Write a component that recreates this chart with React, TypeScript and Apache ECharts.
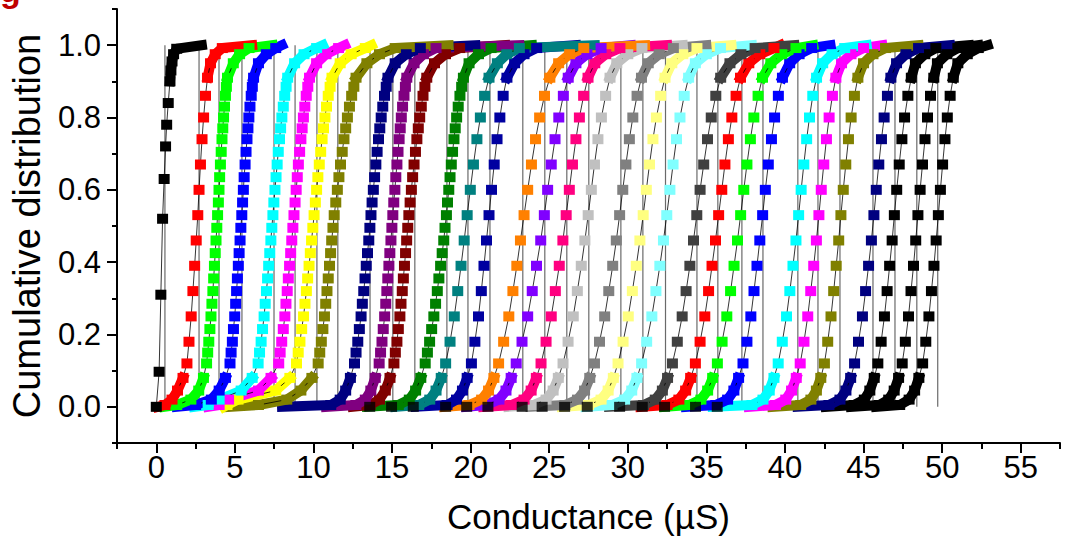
import React, { useEffect, useRef } from "react";
import * as echarts from "echarts";

// cumulative levels shared by curves 2–32 (y values of the plotted points)
const Y_LEVELS = [0.005, 0.02, 0.045, 0.08, 0.12, 0.18, 0.25, 0.32, 0.39, 0.46, 0.53, 0.6, 0.67, 0.74, 0.8, 0.86, 0.91, 0.95, 0.975, 0.992];
// extra levels for the densely sampled curves
const Y_EXTRA = [0.15, 0.215, 0.285, 0.355, 0.425, 0.495, 0.565, 0.635, 0.705, 0.77, 0.83, 0.885];
// the first (very steep) curve has its own sparse levels
const Y_LEVELS_01 = [0.0, 0.097, 0.31, 0.52, 0.63, 0.72, 0.78, 0.84, 0.9, 0.93, 0.955, 0.975, 0.99];

// conductance (µS) of each curve at its levels
const curve01 = [0.0, 0.18, 0.29, 0.4, 0.5, 0.59, 0.66, 0.76, 0.87, 0.93, 1.0, 1.1, 1.3];
const curve02 = [0.55, 1.0, 1.35, 1.7, 1.95, 2.08, 2.22, 2.33, 2.44, 2.54, 2.64, 2.72, 2.81, 2.91, 3.01, 3.13, 3.26, 3.45, 3.75, 4.2];
const curve03 = [1.3, 2.2, 2.7, 3.0, 3.2, 3.34, 3.48, 3.6, 3.7, 3.8, 3.9, 3.99, 4.08, 4.18, 4.28, 4.4, 4.53, 4.9, 5.3, 5.9];
const curve04 = [2.5, 3.5, 4.0, 4.4, 4.69, 4.84, 4.99, 5.11, 5.22, 5.33, 5.44, 5.54, 5.65, 5.77, 5.89, 6.04, 6.19, 6.5, 7.0, 7.6];
const curve05 = [3.3, 4.0, 5.4, 6.1, 6.48, 6.67, 6.86, 7.01, 7.15, 7.29, 7.42, 7.55, 7.69, 7.84, 7.99, 8.17, 8.36, 8.8, 9.4, 10.2];
const curve06 = [4.0, 4.6, 6.5, 7.3, 7.79, 7.98, 8.18, 8.33, 8.48, 8.62, 8.76, 8.9, 9.04, 9.2, 9.36, 9.54, 9.75, 10.2, 10.8, 11.6];
const curve07 = [4.5, 5.2, 7.6, 8.5, 8.92, 9.14, 9.37, 9.55, 9.72, 9.88, 10.04, 10.2, 10.37, 10.55, 10.73, 10.94, 11.18, 11.7, 12.4, 13.3];
const curve08 = [6.5, 8.3, 9.2, 9.9, 10.3, 10.5, 10.7, 10.86, 11.02, 11.16, 11.32, 11.52, 11.72, 11.94, 12.16, 12.43, 12.71, 13.4, 14.2, 15.2];
const curve09 = [11.1, 11.7, 12.05, 12.35, 12.61, 12.82, 13.03, 13.2, 13.36, 13.52, 13.66, 13.81, 13.97, 14.14, 14.31, 14.52, 14.74, 15.2, 15.9, 16.8];
const curve10 = [12.7, 13.3, 13.65, 13.93, 14.18, 14.36, 14.53, 14.67, 14.8, 14.93, 15.05, 15.18, 15.31, 15.45, 15.59, 15.76, 15.94, 16.4, 17.0, 17.8];
const curve11 = [13.6, 14.2, 14.57, 14.87, 15.12, 15.31, 15.5, 15.65, 15.79, 15.93, 16.07, 16.23, 16.4, 16.58, 16.76, 16.97, 17.21, 17.7, 18.4, 19.3];
const curve12 = [15.4, 16.1, 16.5, 16.83, 17.11, 17.39, 17.66, 17.88, 18.09, 18.29, 18.46, 18.61, 18.77, 18.94, 19.11, 19.32, 19.54, 19.9, 20.5, 21.3];
const curve13 = [16.7, 17.4, 17.8, 18.13, 18.41, 18.69, 18.96, 19.18, 19.39, 19.59, 19.78, 19.98, 20.18, 20.4, 20.62, 20.89, 21.17, 21.7, 22.3, 23.1];
const curve14 = [18.5, 19.1, 19.48, 19.78, 20.05, 20.27, 20.5, 20.68, 20.85, 21.01, 21.17, 21.33, 21.5, 21.68, 21.86, 22.07, 22.31, 22.8, 23.4, 24.2];
const curve15 = [19.9, 20.7, 21.14, 21.48, 21.78, 22.1, 22.43, 22.69, 22.94, 23.17, 23.4, 23.63, 23.87, 24.13, 24.39, 24.7, 25.04, 25.6, 26.3, 27.2];
const curve16 = [21.0, 21.8, 22.25, 22.58, 22.9, 23.27, 23.63, 23.92, 24.19, 24.46, 24.69, 24.9, 25.13, 25.37, 25.61, 25.9, 26.21, 26.7, 27.4, 28.3];
const curve17 = [22.6, 23.4, 23.85, 24.18, 24.48, 24.8, 25.13, 25.39, 25.64, 25.87, 26.08, 26.28, 26.48, 26.7, 26.92, 27.19, 27.47, 27.9, 28.6, 29.5];
const curve18 = [24.0, 24.8, 25.25, 25.58, 25.88, 26.2, 26.53, 26.79, 27.04, 27.27, 27.48, 27.68, 27.88, 28.1, 28.32, 28.59, 28.87, 29.3, 30.0, 30.9];
const curve19 = [26.0, 26.8, 27.25, 27.58, 27.88, 28.2, 28.53, 28.79, 29.04, 29.27, 29.48, 29.68, 29.88, 30.1, 30.32, 30.59, 30.87, 31.3, 32.0, 32.9];
const curve20 = [27.5, 28.3, 28.75, 29.08, 29.38, 29.7, 30.03, 30.29, 30.54, 30.77, 30.98, 31.18, 31.38, 31.6, 31.82, 32.09, 32.37, 32.8, 33.5, 34.4];
const curve21 = [29.0, 29.8, 30.25, 30.58, 30.88, 31.2, 31.53, 31.79, 32.04, 32.27, 32.48, 32.68, 32.88, 33.1, 33.32, 33.59, 33.87, 34.3, 35.0, 35.9];
const curve22 = [31.0, 31.75, 32.2, 32.53, 32.84, 33.15, 33.46, 33.71, 33.95, 34.18, 34.39, 34.6, 34.83, 35.07, 35.31, 35.6, 35.91, 36.5, 37.2, 38.1];
const curve23 = [32.5, 33.25, 33.68, 34.0, 34.3, 34.6, 34.9, 35.14, 35.36, 35.58, 35.78, 35.98, 36.18, 36.4, 36.62, 36.89, 37.17, 37.7, 38.4, 39.3];
const curve24 = [33.9, 34.65, 35.08, 35.4, 35.7, 36.0, 36.3, 36.54, 36.76, 36.98, 37.18, 37.38, 37.58, 37.8, 38.02, 38.29, 38.57, 39.1, 39.8, 40.7];
const curve25 = [35.6, 36.35, 36.75, 37.05, 37.33, 37.58, 37.83, 38.03, 38.22, 38.4, 38.58, 38.75, 38.94, 39.14, 39.34, 39.58, 39.84, 40.3, 40.9, 41.7];
const curve26 = [37.9, 38.6, 39.0, 39.3, 39.57, 39.83, 40.1, 40.31, 40.51, 40.7, 40.87, 41.03, 41.2, 41.38, 41.56, 41.77, 42.01, 42.4, 43.0, 43.8];
const curve27 = [39.4, 40.05, 40.42, 40.72, 40.97, 41.21, 41.45, 41.64, 41.83, 42.0, 42.16, 42.31, 42.47, 42.64, 42.81, 43.02, 43.24, 43.6, 44.2, 45.0];
const curve28 = [41.0, 41.65, 42.0, 42.28, 42.51, 42.72, 42.93, 43.1, 43.26, 43.42, 43.56, 43.71, 43.87, 44.04, 44.21, 44.42, 44.64, 45.0, 45.6, 46.4];
const curve29 = [42.8, 43.5, 43.88, 44.18, 44.43, 44.68, 44.93, 45.13, 45.32, 45.5, 45.66, 45.81, 45.97, 46.14, 46.31, 46.52, 46.74, 47.1, 47.7, 48.5];
const curve30 = [44.4, 45.05, 45.4, 45.68, 45.91, 46.12, 46.33, 46.5, 46.66, 46.82, 46.96, 47.11, 47.27, 47.44, 47.61, 47.82, 48.04, 48.3, 48.9, 49.6];
const curve31 = [46.0, 46.6, 46.95, 47.23, 47.46, 47.66, 47.86, 48.02, 48.18, 48.32, 48.46, 48.6, 48.75, 48.91, 49.07, 49.26, 49.47, 49.7, 50.3, 51.0];
const curve32 = [47.3, 47.9, 48.25, 48.52, 48.76, 48.96, 49.16, 49.32, 49.48, 49.62, 49.76, 49.89, 50.03, 50.18, 50.33, 50.51, 50.71, 51.0, 51.6, 52.3];

// conductance (µS) at the extra levels, for the densely sampled curves 3–12
const extra03 = [3.27, 3.41, 3.54, 3.65, 3.75, 3.85, 3.95, 4.03, 4.13, 4.23, 4.34, 4.46];
const extra04 = [4.76, 4.91, 5.05, 5.16, 5.27, 5.38, 5.49, 5.59, 5.71, 5.83, 5.96, 6.11];
const extra05 = [6.57, 6.76, 6.93, 7.08, 7.22, 7.35, 7.48, 7.62, 7.76, 7.91, 8.08, 8.26];
const extra06 = [7.88, 8.08, 8.25, 8.4, 8.55, 8.69, 8.83, 8.97, 9.12, 9.28, 9.45, 9.64];
const extra07 = [9.03, 9.25, 9.46, 9.63, 9.8, 9.96, 10.12, 10.28, 10.46, 10.64, 10.83, 11.06];
const extra08 = [10.4, 10.6, 10.78, 10.94, 11.09, 11.24, 11.42, 11.62, 11.83, 12.05, 12.29, 12.57];
const extra09 = [12.71, 12.92, 13.11, 13.28, 13.44, 13.59, 13.73, 13.89, 14.05, 14.22, 14.41, 14.63];
const extra10 = [14.27, 14.44, 14.6, 14.73, 14.86, 14.99, 15.11, 15.24, 15.38, 15.52, 15.67, 15.85];
const extra11 = [15.21, 15.4, 15.57, 15.72, 15.86, 16.0, 16.15, 16.31, 16.49, 16.67, 16.86, 17.09];
const extra12 = [17.25, 17.52, 17.77, 17.98, 18.19, 18.37, 18.53, 18.69, 18.85, 19.02, 19.21, 19.43];

const CURVES = [
  curve01, curve02, curve03, curve04, curve05, curve06, curve07, curve08,
  curve09, curve10, curve11, curve12, curve13, curve14, curve15, curve16,
  curve17, curve18, curve19, curve20, curve21, curve22, curve23, curve24,
  curve25, curve26, curve27, curve28, curve29, curve30, curve31, curve32,
];
const EXTRAS: (number[] | null)[] = [
  null, null, extra03, extra04, extra05, extra06, extra07, extra08,
  extra09, extra10, extra11, extra12, null, null, null, null,
  null, null, null, null, null, null, null, null,
  null, null, null, null, null, null, null, null,
];

// first conductance bin (cumulative = 0) and last bin (cumulative = 1) of each curve
const CURVE_X_MIN = [0.0, 0.1, 0.5, 1.3, 2.4, 3.3, 4.3, 4.6, 8.0, 10.8, 12.5, 13.4, 15.2, 16.5, 18.3, 19.7, 20.8, 22.4, 23.8, 25.8, 27.3, 28.8, 30.8, 32.3, 33.7, 35.4, 37.7, 39.2, 40.8, 42.6, 44.2, 45.8];
const CURVE_X_MAX = [2.9, 6.1, 7.4, 8.0, 10.6, 12.0, 13.7, 18.6, 20.3, 23.1, 22.2, 23.9, 27.9, 26.7, 31.1, 30.2, 32.5, 33.5, 35.0, 36.6, 37.9, 40.6, 39.7, 41.8, 42.9, 45.2, 46.2, 48.5, 50.5, 51.7, 52.3, 52.9];

const CURVE_COLORS = [
  "#000000", "#FF0000", "#00FF00", "#0000FF", "#00FFFF", "#FF00FF", "#FFFF00", "#808000",
  "#000080", "#800080", "#800000", "#008000", "#008080", "#0000A0", "#FF8000", "#8000FF",
  "#FF0080", "#C0C0C0", "#808080", "#FFFF80", "#80FFFF", "#404040", "#FF0000", "#00FF00",
  "#0000FF", "#00FFFF", "#FF00FF", "#808000", "#000080", "#000000", "#000000", "#000000",
];

// thin vertical marker line of every curve (µS)
const MEDIAN_LINES = [0.55, 2.72, 3.99, 5.45, 7.49, 8.83, 10.22, 11.55, 13.6, 15.05, 16.45, 18.49, 19.83, 21.23, 23.32, 24.72, 26.12, 27.52, 29.56, 30.96, 32.4, 34.4, 35.73, 37.26, 38.6, 40.82, 42.1, 43.5, 45.6, 47.0, 48.39, 49.72];

// black squares sitting on the zero line (µS)
const ZERO_MARKERS = [13.58, 14.97, 16.35, 18.41, 19.75, 21.1, 23.28, 24.55, 25.98, 27.42, 29.48, 30.92, 32.34, 34.31, 35.69];

// axis ticks
const X_MAJOR = [0, 5, 10, 15, 20, 25, 30, 35, 40, 45, 50, 55];
const X_MINOR = [-2.5, 2.5, 7.5, 12.5, 17.5, 22.5, 27.5, 32.5, 37.5, 42.5, 47.5, 52.5, 57.5];
const Y_MAJOR = [0, 0.2, 0.4, 0.6, 0.8, 1.0];
const Y_MINOR = [-0.1, 0.1, 0.3, 0.5, 0.7, 0.9, 1.1];

const FONT = '"Liberation Sans", Arial, Helvetica, sans-serif';

export default function App() {
  const ref = useRef<HTMLDivElement>(null);

  useEffect(() => {
    if (!ref.current) return;
    const chart = echarts.init(ref.current, undefined, { renderer: "svg" });

    const series: any[] = [];

    MEDIAN_LINES.forEach((x) => {
      series.push({
        type: "line",
        data: [[x, 0], [x, 1]],
        symbol: "none",
        silent: true,
        z: 1,
        lineStyle: { color: "#6a6a6a", width: 1.2 },
      });
    });

    for (let i = CURVES.length - 1; i >= 0; i--) {
      const xs = CURVES[i];
      const levels = i === 0 ? Y_LEVELS_01 : Y_LEVELS;
      const color = CURVE_COLORS[i];
      const pts = xs.map((x, k) => [x, levels[k]]);
      const extra = EXTRAS[i];
      const allPts = extra
        ? [...pts, ...extra.map((x, k) => [x, Y_EXTRA[k]])].sort((a, b) => a[1] - b[1])
        : pts;
      const bottom = [[CURVE_X_MIN[i], 0], ...pts.filter((p) => p[1] <= 0.08)];
      const top = [...pts.filter((p) => p[1] >= 0.9), [CURVE_X_MAX[i], 1]];
      const band = {
        type: "line",
        symbol: "none",
        silent: true,
        z: 2,
        lineStyle: { color, width: 10, cap: "square", join: "round" },
      };
      if (bottom.length > 1) series.push({ ...band, data: bottom });
      series.push({ ...band, data: top });
      series.push({
        type: "line",
        data: allPts,
        symbol: "rect",
        symbolSize: [11, 10],
        showSymbol: true,
        silent: true,
        z: 2,
        itemStyle: { color },
        lineStyle: { color: "#000", width: 0.8 },
      });
    }

    series.push({
      type: "scatter",
      data: ZERO_MARKERS.map((x) => [x, 0]),
      symbol: "rect",
      symbolSize: [11, 10],
      silent: true,
      z: 3,
      itemStyle: { color: "#000" },
    });

    const axisLine = { show: true, onZero: false, lineStyle: { color: "#000", width: 2 } };

    chart.setOption({
      animation: false,
      backgroundColor: "#fff",
      grid: { left: 117, right: 9, top: 9, bottom: 91, containLabel: false },
      xAxis: [
        {
          type: "value",
          min: -2.5,
          max: 57.5,
          position: "bottom",
          axisLine,
          axisTick: { show: true, customValues: X_MAJOR, length: 10, lineStyle: { color: "#000", width: 2 } },
          axisLabel: {
            show: true,
            customValues: X_MAJOR,
            fontSize: 31,
            color: "#000",
            margin: 9,
            fontFamily: FONT,
          },
          splitLine: { show: false },
          name: "Conductance (\u00B5S)",
          nameLocation: "middle",
          nameGap: 56,
          nameTextStyle: { fontSize: 35, color: "#000", fontFamily: FONT },
        },
        {
          type: "value",
          min: -2.5,
          max: 57.5,
          position: "bottom",
          axisLine: { show: false, onZero: false },
          axisTick: { show: true, customValues: X_MINOR, length: 6, lineStyle: { color: "#000", width: 2 } },
          axisLabel: { show: false },
          splitLine: { show: false },
        },
      ],
      yAxis: [
        {
          type: "value",
          min: -0.1,
          max: 1.1,
          position: "left",
          axisLine,
          axisTick: { show: true, customValues: Y_MAJOR, length: 10, lineStyle: { color: "#000", width: 2 } },
          axisLabel: {
            show: true,
            customValues: Y_MAJOR,
            formatter: (v: number) => v.toFixed(1),
            fontSize: 31,
            color: "#000",
            margin: 16,
            fontFamily: FONT,
          },
          splitLine: { show: false },
          name: "Cumulative distribution",
          nameLocation: "middle",
          nameGap: 71,
          nameRotate: 90,
          nameTextStyle: { fontSize: 38, color: "#000", fontFamily: FONT },
        },
        {
          type: "value",
          min: -0.1,
          max: 1.1,
          position: "left",
          axisLine: { show: false, onZero: false },
          axisTick: { show: true, customValues: Y_MINOR, length: 5, lineStyle: { color: "#000", width: 2 } },
          axisLabel: { show: false },
          splitLine: { show: false },
        },
      ],
      graphic: [
        {
          type: "text",
          x: 0,
          y: -27,
          silent: true,
          style: { text: "g", fill: "#C00000", font: `bold 34px ${FONT}` },
        },
      ],
      series,
    });

    return () => chart.dispose();
  }, []);

  return (
    <div
      ref={ref}
      style={{ position: "fixed", left: 0, top: 0, width: 1069, height: 539, background: "#fff" }}
    />
  );
}
